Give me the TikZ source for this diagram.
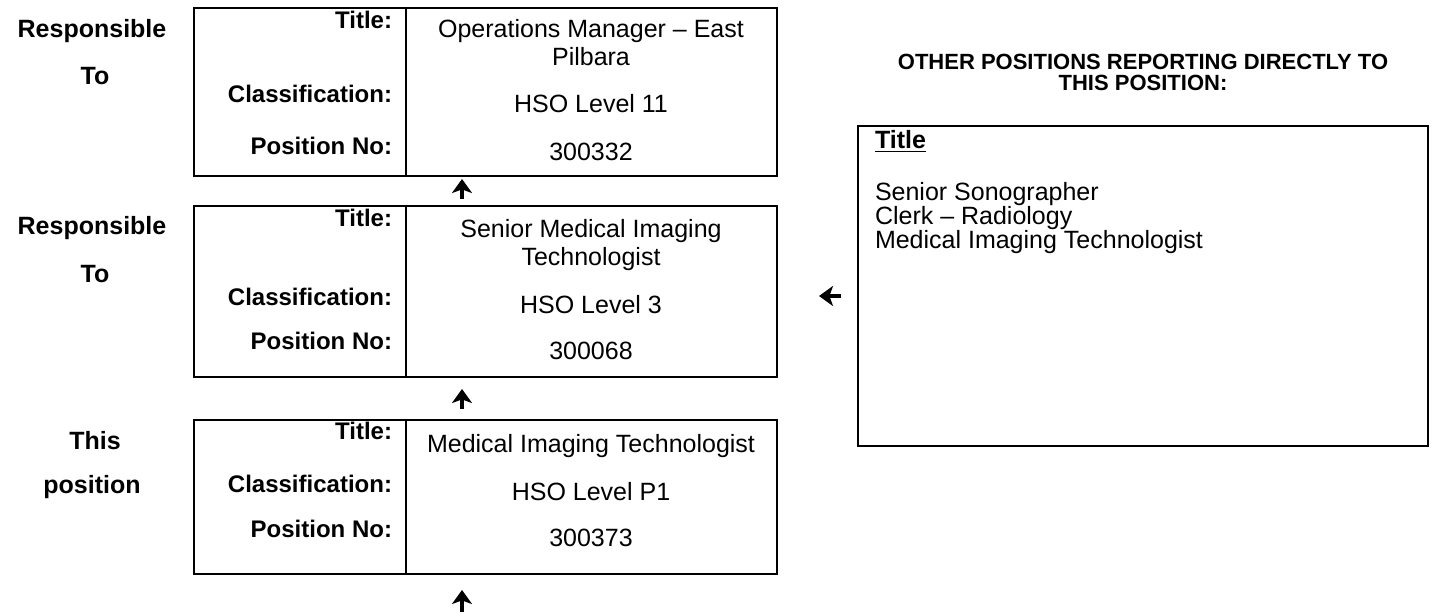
\documentclass[tikz,border=0pt]{standalone}
\usepackage{fontspec}
\setmainfont{Liberation Sans}
\usetikzlibrary{arrows.meta}
\tikzset{
  lbl/.style={font=\bfseries\fontsize{12}{14}\selectfont, anchor=east, inner sep=0pt},
  val/.style={font=\fontsize{12.5}{14}\selectfont, align=center, inner sep=0pt},
  side/.style={font=\bfseries\fontsize{12.5}{15}\selectfont, inner sep=0pt},
  ptr/.style={-{Stealth[length=7pt,width=10pt,inset=1.8pt]}, line width=2.2pt},
}
\begin{document}
\begin{tikzpicture}[x=0.5pt,y=-0.5pt,line width=1pt]
\useasboundingbox (0,0) rectangle (1437,616);
\def\xl{194}
\def\xm{406}
\def\xr{777}
\def\xv{591}
% the three position boxes
\foreach \b/\t/\u/\ya/\yb/\yc/\va/\vb/\vc/\ttl/\cls/\pno in {
  1/8/176/20/94/146/43/104/152/{Operations Manager -- East\\Pilbara}/{HSO Level 11}/300332,
  2/206/377/218/297/341/245/305/351/{Senior Medical Imaging\\Technologist}/{HSO Level 3}/300068,
  3/420/574/431/484/529/446/492/538/{Medical Imaging Technologist}/{HSO Level P1}/300373}{
  \node[draw, inner sep=0pt, minimum width=291.5pt, minimum height={(\u-\t)*0.5pt}]
    (box\b) at ({(\xl+\xr)/2},{(\t+\u)/2}) {};
  \draw (\xm,\t) -- (\xm,\u);
  \node[lbl] (ttl\b) at (393,\ya) {Title:};
  \node[lbl] (cls\b) at (393,\yb) {Classification:};
  \node[lbl] (pno\b) at (393,\yc) {Position No:};
  \node[val] (ttlv\b) at (\xv,\va) {\ttl};
  \node[val] (clsv\b) at (\xv,\vb) {\cls};
  \node[val] (pnov\b) at (\xv,\vc) {\pno};
}
% left hand labels
\node[side] (resp1) at (92,31) {Responsible};
\node[side] (to1) at (95,76) {To};
\node[side] (resp2) at (92,228) {Responsible};
\node[side] (to2) at (95,274) {To};
\node[side] (this) at (95,441) {This};
\node[side] (posn) at (92,487) {position};
% arrows
\coordinate (a1) at (462,199);
\coordinate (b1) at (462,179);
\coordinate (a2) at (462,409);
\coordinate (b2) at (462,389);
\coordinate (a3) at (462,612);
\coordinate (b3) at (462,590);
\coordinate (a4) at (841,296);
\coordinate (b4) at (819,296);
\foreach \k in {1,...,4}
  \draw[ptr] (a\k) -- (b\k);
% other positions
\node[font=\bfseries\fontsize{11}{10.5}\selectfont, align=center, inner sep=0pt]
  (head) at (1143,72) {OTHER POSITIONS REPORTING DIRECTLY TO\\THIS POSITION:};
\node[draw, inner sep=0pt, minimum width=285pt, minimum height=160pt] (others) at (1143,286) {};
\node[anchor=north west, inner sep=0pt, font={\fontsize{12.5}{12}\selectfont\lineskiplimit=-10pt\relax}, align=left]
  (list) at (874,129) {\underline{\textbf{Title}}\\[14pt]Senior Sonographer\\Clerk -- Radiology\\Medical Imaging Technologist};
\end{tikzpicture}
\end{document}
